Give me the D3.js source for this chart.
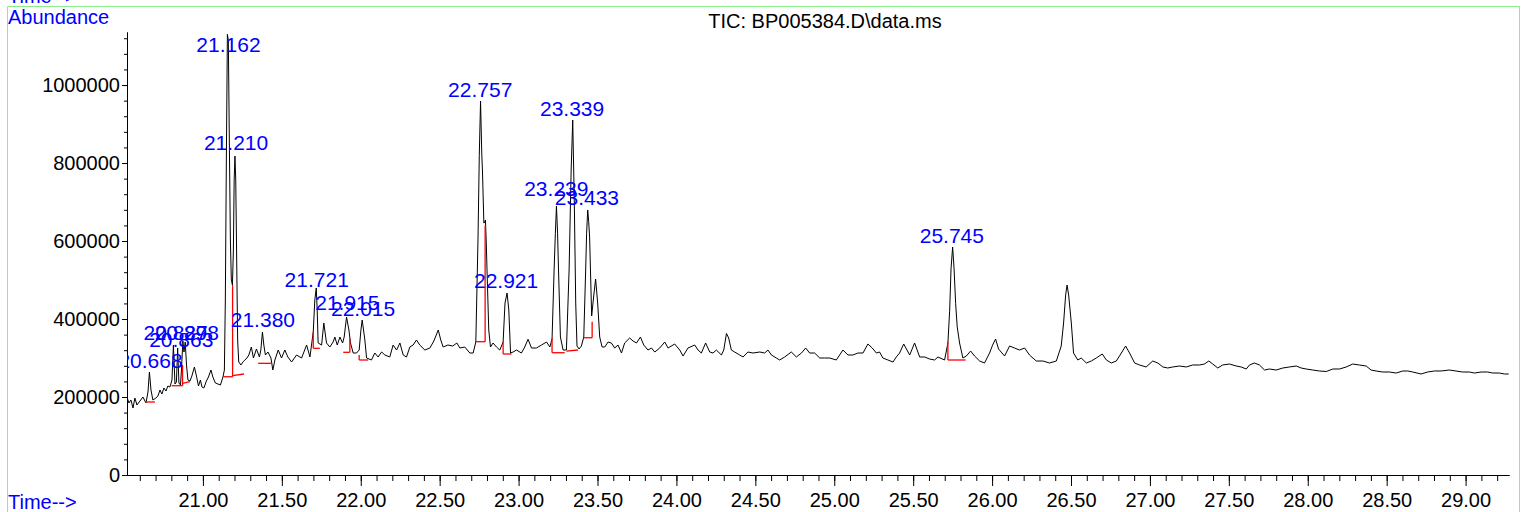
<!DOCTYPE html>
<html>
<head>
<meta charset="utf-8">
<script src="https://cdn.jsdelivr.net/npm/d3@7"></script>
<style>
  body { margin: 0; background: #fff; }
  svg { display: block; }
</style>
</head>
<body>
<div id="chart"></div>
<script>
// TIC trace (minutes, abundance)
const traceTime = [
  20.519, 20.531, 20.544, 20.557, 20.569, 20.582, 20.601, 20.620, 20.639, 20.652,
  20.661, 20.671, 20.683, 20.702, 20.715, 20.728, 20.740, 20.753, 20.766, 20.778,
  20.791, 20.804, 20.813, 20.823, 20.832, 20.840, 20.848, 20.858, 20.864, 20.873,
  20.880, 20.888, 20.896, 20.905, 20.918, 20.930, 20.946, 20.959, 20.972, 20.984,
  20.994, 21.006, 21.022, 21.035, 21.051, 21.063, 21.079, 21.095, 21.111, 21.127,
  21.136, 21.142, 21.149, 21.155, 21.161, 21.168, 21.174, 21.180, 21.187, 21.193,
  21.198, 21.203, 21.208, 21.214, 21.220, 21.227, 21.241, 21.253, 21.266, 21.279,
  21.291, 21.307, 21.320, 21.339, 21.358, 21.367, 21.377, 21.386, 21.396, 21.412,
  21.431, 21.443, 21.456, 21.477, 21.498, 21.519, 21.538, 21.562, 21.593, 21.625,
  21.657, 21.678, 21.699, 21.709, 21.718, 21.724, 21.730, 21.752, 21.766, 21.783,
  21.804, 21.825, 21.836, 21.851, 21.868, 21.885, 21.895, 21.910, 21.925, 21.935,
  21.952, 21.973, 21.990, 22.001, 22.009, 22.016, 22.026, 22.037, 22.068, 22.089,
  22.110, 22.132, 22.153, 22.184, 22.205, 22.227, 22.248, 22.269, 22.290, 22.311,
  22.332, 22.353, 22.374, 22.406, 22.438, 22.463, 22.491, 22.507, 22.522, 22.552,
  22.583, 22.609, 22.628, 22.659, 22.691, 22.712, 22.729, 22.743, 22.751, 22.759,
  22.767, 22.771, 22.780, 22.786, 22.790, 22.795, 22.800, 22.811, 22.822, 22.838,
  22.860, 22.881, 22.902, 22.914, 22.927, 22.938, 22.949, 22.965, 22.987, 23.018,
  23.039, 23.060, 23.082, 23.113, 23.145, 23.177, 23.198, 23.212, 23.225, 23.233,
  23.240, 23.247, 23.253, 23.265, 23.282, 23.303, 23.320, 23.333, 23.343, 23.353,
  23.362, 23.370, 23.383, 23.398, 23.413, 23.425, 23.431, 23.438, 23.444, 23.450,
  23.463, 23.476, 23.488, 23.501, 23.514, 23.529, 23.546, 23.567, 23.588, 23.609,
  23.630, 23.652, 23.672, 23.704, 23.725, 23.747, 23.772, 23.793, 23.820, 23.842,
  23.863, 23.894, 23.926, 23.947, 23.989, 24.021, 24.042, 24.073, 24.116, 24.137,
  24.158, 24.185, 24.211, 24.232, 24.253, 24.285, 24.300, 24.317, 24.331, 24.348,
  24.369, 24.401, 24.422, 24.453, 24.485, 24.528, 24.559, 24.580, 24.602, 24.633,
  24.654, 24.686, 24.728, 24.760, 24.792, 24.819, 24.844, 24.876, 24.908, 24.939,
  24.971, 25.013, 25.055, 25.087, 25.118, 25.150, 25.182, 25.213, 25.241, 25.267,
  25.287, 25.308, 25.340, 25.372, 25.393, 25.414, 25.440, 25.478, 25.509, 25.541,
  25.573, 25.604, 25.636, 25.657, 25.699, 25.720, 25.731, 25.740, 25.750, 25.759,
  25.769, 25.779, 25.794, 25.815, 25.837, 25.864, 25.889, 25.921, 25.952, 25.984,
  26.003, 26.022, 26.041, 26.079, 26.111, 26.142, 26.174, 26.206, 26.237, 26.280,
  26.322, 26.364, 26.407, 26.438, 26.453, 26.466, 26.475, 26.485, 26.502, 26.516,
  26.543, 26.565, 26.597, 26.629, 26.660, 26.698, 26.724, 26.755, 26.787, 26.819,
  26.846, 26.871, 26.903, 26.934, 26.976, 27.018, 27.050, 27.082, 27.113, 27.145,
  27.187, 27.230, 27.271, 27.314, 27.345, 27.373, 27.398, 27.430, 27.461, 27.504,
  27.547, 27.578, 27.610, 27.631, 27.662, 27.694, 27.726, 27.757, 27.800, 27.842,
  27.884, 27.927, 27.958, 27.990, 28.032, 28.074, 28.117, 28.159, 28.201, 28.243,
  28.285, 28.327, 28.370, 28.401, 28.433, 28.475, 28.517, 28.560, 28.602, 28.633,
  28.665, 28.718, 28.760, 28.802, 28.845, 28.897, 28.939, 28.981, 29.024, 29.056,
  29.098, 29.140, 29.172, 29.214, 29.246, 29.273
]
const traceAbund = [
  200000, 184600, 192300, 171800, 197400, 179500, 189700, 200000, 184600, 212800,
  264100, 217900, 192300, 197400, 202600, 217900, 207700, 223100, 215400, 228200,
  225600, 243600, 333300, 233300, 238500, 325600, 235900, 230800, 269200, 343600,
  315400, 341000, 282000, 243600, 241000, 253800, 276900, 253800, 228200, 243600,
  225600, 223100, 241000, 251300, 269200, 251300, 235900, 233300, 230800, 251300,
  269200, 448700, 833300, 1130000, 1115000, 833300, 602600, 500000, 487200, 576900,
  756400, 817900, 756400, 551300, 346200, 289700, 282100, 289700, 294900, 300000,
  307700, 328200, 300000, 323100, 302600, 320500, 366700, 333300, 307700, 315400,
  300000, 269200, 294900, 320500, 300000, 320500, 302600, 289700, 307700, 300000,
  333300, 302600, 366700, 448700, 479500, 423100, 338500, 333300, 389700, 338500,
  328200, 341000, 353800, 333300, 353800, 338500, 353800, 405100, 371800, 338500,
  312800, 312800, 320500, 371800, 397400, 376900, 346200, 300000, 294900, 312800,
  302600, 315400, 307700, 302600, 333300, 320500, 338500, 307700, 302600, 328200,
  333300, 346200, 333300, 320500, 325600, 343600, 371800, 346200, 328200, 333300,
  330800, 338500, 325600, 328200, 312800, 312800, 341000, 607700, 820000, 959000,
  820500, 782000, 646000, 648700, 653800, 600000, 525600, 371800, 328200, 338500,
  328200, 320500, 341000, 441000, 466700, 423100, 312800, 315400, 320500, 312800,
  328200, 348000, 325600, 325600, 333300, 341000, 328200, 348700, 525600, 620000,
  689700, 620000, 525600, 353800, 320500, 320500, 525600, 782000, 910300, 700000,
  441000, 330800, 323100, 330800, 353800, 525600, 620000, 679500, 650000, 610300,
  407700, 459000, 502600, 441000, 353800, 328200, 328200, 341000, 338500, 325600,
  333300, 312800, 338500, 351300, 343600, 338500, 353800, 333300, 320500, 325600,
  315400, 325600, 341000, 325600, 335900, 320500, 305100, 325600, 333300, 320500,
  312800, 338500, 315400, 312800, 320500, 307700, 320500, 363000, 351300, 320500,
  315400, 307700, 302600, 315400, 312800, 315400, 312800, 320500, 307700, 300000,
  294900, 302600, 315400, 302600, 312800, 325600, 312800, 312800, 300000, 300000,
  300000, 294900, 320500, 307700, 307700, 312800, 312800, 335900, 325600, 312800,
  315400, 300000, 294900, 289700, 302600, 312800, 335900, 307700, 338500, 302600,
  302600, 297400, 294900, 302600, 294900, 338500, 420000, 530000, 584600, 530000,
  440000, 380000, 338500, 300000, 305100, 317900, 305100, 292300, 287200, 312800,
  333000, 348700, 323100, 305100, 330800, 325600, 320500, 325600, 307700, 292300,
  292300, 287200, 292300, 330800, 389700, 461500, 487200, 461500, 389700, 312800,
  294900, 300000, 287200, 292300, 300000, 310300, 294900, 287200, 292300, 312800,
  330800, 312800, 287200, 282100, 277000, 292300, 287200, 277000, 274400, 277000,
  279500, 277000, 282100, 282100, 284600, 292300, 284600, 274400, 282100, 284600,
  279500, 277000, 271800, 282100, 287200, 282100, 269200, 271800, 269200, 274400,
  277000, 279500, 274400, 271800, 269200, 266700, 265400, 271800, 271800, 276900,
  284600, 282100, 279500, 269200, 266700, 264100, 264100, 261500, 266700, 266700,
  264100, 259000, 264100, 266700, 266700, 269200, 266700, 264100, 264100, 261500,
  264100, 264100, 261500, 261500, 259000, 259000
]

// integrated peaks: retention time label and apex height
const peakTimes = ["20.668", "20.827", "20.863", "20.898", "21.162", "21.210", "21.380", "21.721",
  "21.915", "22.015", "22.757", "22.921", "23.239", "23.339", "23.433", "25.745"]
const peakHeights = [264100, 335900, 317200, 335900, 1130000, 823000, 368400, 472600,
  412800, 397400, 960300, 468500, 705100, 911000, 682000, 585400]

// red integration baselines / drop lines: start and end [time, abundance]
const baseStart = [[20.633, 187200], [20.802, 229000], [20.871, 229000], [20.871, 235100],
  [21.129, 252000], [21.188, 252000], [21.188, 254600], [21.350, 286400],
  [21.699, 324900], [21.699, 324900], [21.889, 314600], [21.931, 314600],
  [21.990, 294900], [21.990, 294900], [22.729, 341800], [22.788, 341800],
  [22.902, 341800], [22.902, 310300], [23.212, 350500], [23.212, 313600],
  [23.303, 317900], [23.413, 352000], [23.466, 352000], [25.720, 341800], [25.720, 294900]]
const baseEnd = [[20.696, 187200], [20.871, 229000], [20.871, 282000], [20.918, 239200],
  [21.188, 252000], [21.188, 487000], [21.260, 259000], [21.435, 286400],
  [21.699, 367400], [21.741, 324900], [21.931, 314600], [21.931, 350000],
  [21.990, 307700], [22.047, 294900], [22.788, 341800], [22.788, 640000],
  [22.902, 310300], [22.955, 310300], [23.212, 313600], [23.292, 313600],
  [23.376, 320500], [23.466, 352000], [23.466, 393000], [25.720, 294900], [25.832, 294900]]

const xMajor = d3.range(21, 29.01, 0.5)
const xMinor = d3.range(20.6, 29.25, 0.1)
const yMajor = [0, 200000, 400000, 600000, 800000, 1000000]
const yMinor = d3.range(0, 1136000, 40000)

const W = 1526, H = 512
const margin = {left: 127, right: 1509, top: 32, bottom: 475}
const font = "'Liberation Sans', Arial, sans-serif"
const blue = "#0000ff"

const svg = d3.select("#chart").append("svg")
  .attr("width", W)
  .attr("height", H)
  .style("font-family", font)

svg.append("rect").attr("width", W).attr("height", H).attr("fill", "#fff")

const x = d3.scaleLinear().domain([20.519, 29.275]).range([margin.left, margin.right])
const y = d3.scaleLinear().domain([0, 1136000]).range([margin.bottom, margin.top])

// green frame
svg.append("path")
  .attr("d", `M7.5,${H} V6.5 H1519.5 V${H}`)
  .attr("fill", "none")
  .attr("stroke", "#88ee88")
  .attr("stroke-width", 1)

// corner labels + title
svg.append("text").attr("x", 8).attr("y", 3).attr("font-size", 20).attr("fill", blue).text("Time-->")
svg.append("text").attr("x", 8).attr("y", 24).attr("font-size", 20).attr("fill", blue).text("Abundance")
svg.append("text").attr("x", 8).attr("y", 509).attr("font-size", 20).attr("fill", blue).text("Time-->")
svg.append("text").attr("x", 825).attr("y", 28).attr("font-size", 20)
  .attr("text-anchor", "middle").attr("fill", "#000").text("TIC: BP005384.D\\data.ms")

// axes
svg.append("g")
  .attr("transform", `translate(${margin.left},0)`)
  .call(d3.axisLeft(y).tickValues(yMajor).tickSize(5).tickSizeOuter(0).tickPadding(2).tickFormat(d3.format("d")))
svg.append("g")
  .attr("transform", `translate(${margin.left},0)`)
  .call(d3.axisLeft(y).tickValues(yMinor).tickSize(3).tickSizeOuter(0).tickFormat(""))

svg.append("g")
  .attr("transform", `translate(0,${margin.bottom})`)
  .call(d3.axisBottom(x).tickValues(xMajor).tickSize(11).tickSizeOuter(0).tickPadding(7).tickFormat(d3.format(".2f")))
svg.append("g")
  .attr("transform", `translate(0,${margin.bottom})`)
  .call(d3.axisBottom(x).tickValues(xMinor).tickSize(6).tickSizeOuter(0).tickFormat(""))

svg.selectAll(".tick text").attr("font-size", 20).attr("font-family", font).attr("fill", "#000")
svg.selectAll(".domain, .tick line").attr("stroke", "#000")

// plot area clip
svg.append("clipPath").attr("id", "plot")
  .append("rect").attr("x", margin.left).attr("y", 0)
  .attr("width", margin.right - margin.left + 1).attr("height", margin.bottom)

const plot = svg.append("g").attr("clip-path", "url(#plot)")

const line = d3.line()
  .x((d, i) => x(traceTime[i]))
  .y(d => y(d))

plot.append("path")
  .datum(traceAbund)
  .attr("fill", "none")
  .attr("stroke", "#000")
  .attr("stroke-width", 1)
  .attr("stroke-linejoin", "round")
  .attr("d", line)

plot.selectAll(".base")
  .data(baseStart)
  .join("line")
  .attr("class", "base")
  .attr("x1", d => x(d[0]))
  .attr("y1", d => y(d[1]))
  .attr("x2", (d, i) => x(baseEnd[i][0]))
  .attr("y2", (d, i) => y(baseEnd[i][1]))
  .attr("stroke", "#ff0000")
  .attr("stroke-width", 1.3)

plot.selectAll(".peak")
  .data(peakTimes)
  .join("text")
  .attr("class", "peak")
  .attr("x", d => x(+d))
  .attr("y", (d, i) => Math.max(y(peakHeights[i]) - 4, margin.top + 20))
  .attr("text-anchor", "middle")
  .attr("font-size", 21)
  .attr("fill", blue)
  .text(d => d)
</script>
</body>
</html>
